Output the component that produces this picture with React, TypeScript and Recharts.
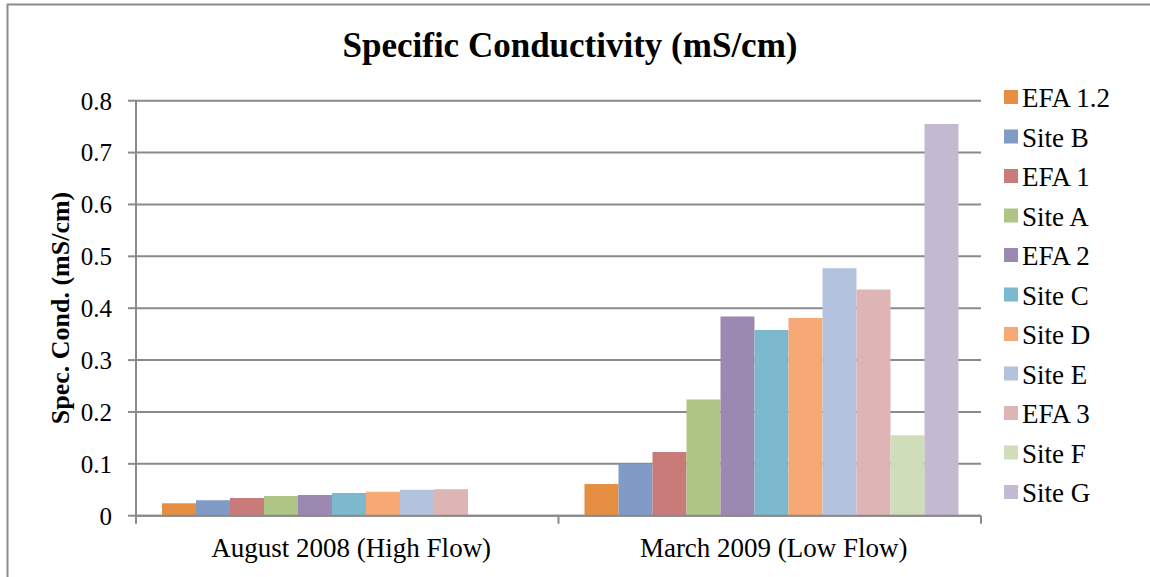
import React from "react";
import { Bar, BarChart, CartesianGrid, XAxis, YAxis } from "recharts";

const categories = ["August 2008 (High Flow)", "March 2009 (Low Flow)"];
const sites = [
	"EFA 1.2",
	"Site B",
	"EFA 1",
	"Site A",
	"EFA 2",
	"Site C",
	"Site D",
	"Site E",
	"EFA 3",
	"Site F",
	"Site G",
];
// no August sample at Site F / Site G
const aug2008 = [0.024, 0.03, 0.034, 0.038, 0.04, 0.044, 0.046, 0.05, 0.051, null, null];
const mar2009 = [0.061, 0.1, 0.123, 0.224, 0.384, 0.358, 0.381, 0.477, 0.436, 0.155, 0.755];
const yTicks = [0, 0.1, 0.2, 0.3, 0.4, 0.5, 0.6, 0.7, 0.8];

const COLORS = [
	"#E68E42",
	"#7F9BC6",
	"#C97B7A",
	"#AEC586",
	"#9C89B2",
	"#7CB8CE",
	"#F7A975",
	"#B4C3DD",
	"#DEB4B4",
	"#D0DDBA",
	"#C3B9D1",
];

const FONT = "'Liberation Serif', 'Times New Roman', serif";
const GRID = "#8a8a8a";

const seriesValues = [aug2008, mar2009];
const data = categories.map((name, ci) => {
	const row: Record<string, string | number | null> = { name };
	sites.forEach((s, si) => {
		row[s] = seriesValues[ci][si];
	});
	return row;
});

// category label plus tick marks on the category boundaries
const CategoryTick = (props: any) => {
	const { x, y, payload, index, width } = props;
	const half = payload?.offset ?? width / categories.length / 2;
	return (
		<g>
			{index === 0 && (
				<line x1={x - half} x2={x - half} y1={y} y2={y + 8} stroke={GRID} strokeWidth={2} />
			)}
			<line x1={x + half} x2={x + half} y1={y} y2={y + 8} stroke={GRID} strokeWidth={2} />
			<text x={x + 4} y={y + 41} textAnchor="middle" fontFamily={FONT} fontSize={27} fill="#000">
				{payload.value}
			</text>
		</g>
	);
};

const YLabel = () => (
	<text
		x={69}
		y={308}
		transform="rotate(-90, 69, 308)"
		textAnchor="middle"
		fontFamily={FONT}
		fontSize={26}
		fontWeight="bold"
		fill="#000"
	>
		Spec. Cond. (mS/cm)
	</text>
);

export default function App() {
	return (
		<div
			style={{
				position: "absolute",
				left: 0,
				top: 0,
				width: 1150,
				height: 577,
				background: "#fff",
				overflow: "hidden",
			}}
		>
			<BarChart
				width={1150}
				height={577}
				data={data}
				margin={{ top: 100.7, right: 169, bottom: 21.3, left: 76 }}
				barCategoryGap="6.15%"
				barGap={0}
			>
				<CartesianGrid vertical={false} stroke={GRID} strokeWidth={2} />
				<XAxis
					dataKey="name"
					height={40}
					axisLine={{ stroke: GRID, strokeWidth: 2 }}
					tickLine={false}
					tickSize={0}
					tickMargin={0}
					interval={0}
					tick={<CategoryTick />}
				/>
				<YAxis
					width={60}
					domain={[0, 0.8]}
					ticks={yTicks}
					interval={0}
					axisLine={{ stroke: GRID, strokeWidth: 2 }}
					tickLine={{ stroke: GRID, strokeWidth: 2 }}
					tickSize={8}
					tickMargin={16}
					tick={{ fontFamily: FONT, fontSize: 25, fill: "#000" }}
					label={<YLabel />}
				/>
				{sites.map((s, i) => (
					<Bar key={s} dataKey={s} fill={COLORS[i]} isAnimationActive={false} />
				))}
			</BarChart>
			<svg
				width={1150}
				height={577}
				style={{ position: "absolute", left: 0, top: 0, pointerEvents: "none" }}
			>
				<line x1={7.5} x2={7.5} y1={4} y2={577} stroke="#8c8c8c" strokeWidth={2} />
				<line x1={7} x2={1150} y1={4.5} y2={4.5} stroke="#8c8c8c" strokeWidth={2} />
				<text
					x={570}
					y={57}
					textAnchor="middle"
					fontFamily={FONT}
					fontSize={35}
					fontWeight="bold"
					fill="#000"
				>
					Specific Conductivity (mS/cm)
				</text>
				{sites.map((s, i) => {
					const cy = 97 + i * 39.5;
					return (
						<g key={s}>
							<rect x={1004} y={cy - 7} width={14} height={14} fill={COLORS[i]} />
							<text x={1022} y={cy + 10} fontFamily={FONT} fontSize={27} fill="#000">
								{s}
							</text>
						</g>
					);
				})}
			</svg>
		</div>
	);
}
